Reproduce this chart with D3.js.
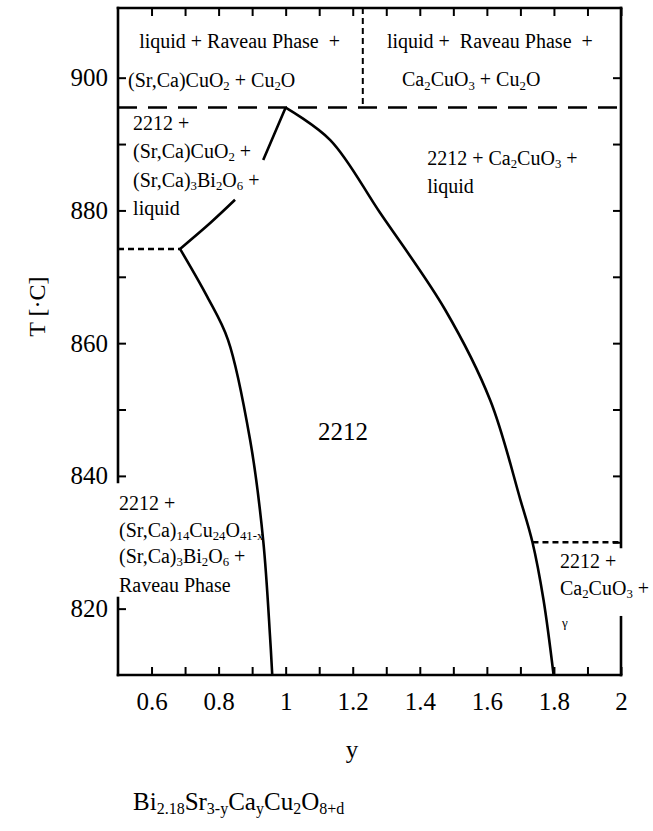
<!DOCTYPE html>
<html>
<head>
<meta charset="utf-8">
<script src="https://cdn.jsdelivr.net/npm/d3@7"></script>
<style>
  body { margin: 0; background: #fff; }
  svg text { font-family: "Liberation Serif", "Times New Roman", serif; white-space: pre; }
</style>
</head>
<body>
<div id="chart"></div>
<script>
// axis ticks
const xTicks = [0.6, 0.7, 0.8, 0.9, 1.0, 1.1, 1.2, 1.3, 1.4, 1.5, 1.6, 1.7, 1.8, 1.9, 2.0];
const xTickLabels = [0.6, 0.8, 1, 1.2, 1.4, 1.6, 1.8, 2];
const tTicks = [820, 830, 840, 850, 860, 870, 880, 890, 900];
const tTickLabels = [820, 840, 860, 880, 900];

// phase boundaries (y = Ca content, T in deg C)
const peritecticT = 895.5;
const splitY = 1.23;
const leftUpperY = [1.0, 0.933, null, 0.849, 0.775, 0.685];
const leftUpperT = [895.5, 887.6, null, 881.6, 878.1, 874.2];
const leftLowerY = [0.685, 0.766, 0.828, 0.894, 0.933, 0.954, 0.96];
const leftLowerT = [874.2, 867.0, 860.5, 845.4, 830.3, 815.3, 810];
const rightY = [1.0, 1.133, 1.282, 1.476, 1.61, 1.70, 1.736, 1.769, 1.799];
const rightT = [895.5, 890.6, 879.6, 865.0, 851.4, 836.4, 830.0, 821.3, 810];
const leftDottedT = 874.2;
const rightDottedT = 830.0;

// phase field labels
const fieldLabels = [
  "liquid + Raveau Phase  +",
  "(Sr,Ca)CuO_2 + Cu_2O",
  "liquid +  Raveau Phase  +",
  "Ca_2CuO_3 + Cu_2O",
  "2212 +", "(Sr,Ca)CuO_2 +", "(Sr,Ca)_3Bi_2O_6 +", "liquid",
  "2212 + Ca_2CuO_3 +", "liquid",
  "2212 +", "(Sr,Ca)_{14}Cu_{24}O_{41-x}", "(Sr,Ca)_3Bi_2O_6 +", "Raveau Phase",
  "2212 +", "Ca_2CuO_3 +"
];

const W = 653, H = 831;

const svg = d3.select("#chart").append("svg")
  .attr("width", W)
  .attr("height", H);

const x = d3.scaleLinear().domain([0.5, 2.0]).range([118, 621]);
const y = d3.scaleLinear().domain([810, 910.5]).range([675, 8]);

// gaps in the side frames where labels run across them
const leftGap = [821.6, 839.1];
const rightGap = [818.7, 829.3];
const outside = gap => d => d < gap[0] || d > gap[1];

const isLabelX = d => xTickLabels.some(v => Math.abs(v - d) < 1e-6);
const isLabelT = d => tTickLabels.includes(d);

// ticks, all pointing inward
const styleAxis = g => {
  g.attr("font-size", 25);
  g.select(".domain").remove();
  g.selectAll("line").attr("stroke", "#000").attr("stroke-width", 2);
  g.selectAll("text").attr("fill", "#000");
};

svg.append("g")
  .attr("transform", `translate(0,${y(810)})`)
  .call(d3.axisBottom(x).tickValues(xTicks).tickSize(-8).tickPadding(17)
    .tickFormat(d => isLabelX(d) ? d3.format("~g")(d) : ""))
  .call(styleAxis);

svg.append("g")
  .attr("transform", `translate(0,${y(910.5)})`)
  .call(d3.axisTop(x).tickValues(xTicks).tickSize(-8).tickFormat(""))
  .call(styleAxis);

svg.append("g")
  .attr("transform", `translate(${x(0.5)},0)`)
  .call(d3.axisLeft(y).tickValues(tTicks.filter(outside(leftGap))).tickSize(-8).tickPadding(10)
    .tickFormat(d => isLabelT(d) ? d : ""))
  .call(styleAxis);

svg.append("g")
  .attr("transform", `translate(${x(2.0)},0)`)
  .call(d3.axisRight(y).tickValues(tTicks.filter(outside(rightGap))).tickSize(-8).tickFormat(""))
  .call(styleAxis);

// frame
const seg = d3.line().x(d => x(d[0])).y(d => y(d[1]));
const frame = [
  [[0.5, 910.5], [2.0, 910.5]],
  [[0.5, 810], [2.0, 810]],
  [[0.5, 910.5], [0.5, leftGap[1]]],
  [[0.5, leftGap[0]], [0.5, 810]],
  [[2.0, 910.5], [2.0, rightGap[1]]],
  [[2.0, rightGap[0]], [2.0, 810]]
];
svg.append("g").selectAll("path")
  .data(frame)
  .join("path")
  .attr("d", seg)
  .attr("fill", "none")
  .attr("stroke", "#000")
  .attr("stroke-width", 2.6)
  .attr("stroke-linecap", "square");

// dashed and dotted boundaries
const dashed = [
  { p: [[0.5, peritecticT], [2.0, peritecticT]], dash: "19,11", w: 2.5 },
  { p: [[splitY, 910.5], [splitY, peritecticT]], dash: "6,4", w: 2 },
  { p: [[0.5, leftDottedT], [leftLowerY[0], leftDottedT]], dash: "6,4", w: 2.5 },
  { p: [[rightY[6], rightDottedT], [2.0, rightDottedT]], dash: "6,4", w: 2.5 }
];
svg.append("g").selectAll("path")
  .data(dashed)
  .join("path")
  .attr("d", d => seg(d.p))
  .attr("fill", "none")
  .attr("stroke", "#000")
  .attr("stroke-width", d => d.w)
  .attr("stroke-dasharray", d => d.dash);

// solid boundaries
const toPts = (ys, ts) => ys.map((v, i) => ({ v, t: ts[i] }));
const curve = d3.line()
  .defined(d => d.v != null)
  .x(d => x(d.v))
  .y(d => y(d.t))
  .curve(d3.curveCatmullRom.alpha(0.5));

svg.append("g").selectAll("path")
  .data([toPts(leftUpperY, leftUpperT), toPts(leftLowerY, leftLowerT), toPts(rightY, rightT)])
  .join("path")
  .attr("d", curve)
  .attr("fill", "none")
  .attr("stroke", "#000")
  .attr("stroke-width", 2.6);

// text with chemical subscripts, written as X_2 or X_{14}
function chem(g, str, px, py, size, anchor) {
  const t = g.append("text")
    .attr("x", px).attr("y", py)
    .attr("font-size", size)
    .attr("text-anchor", anchor || "start")
    .attr("fill", "#000");
  const sub = size * 0.16;
  let shifted = false;
  str.split(/(_\{[^}]*\}|_.)/).forEach(p => {
    if (!p) return;
    if (p[0] === "_") {
      const s = p[1] === "{" ? p.slice(2, -1) : p.slice(1);
      t.append("tspan").attr("font-size", size * 0.64).attr("dy", shifted ? 0 : sub).text(s);
      shifted = true;
    } else {
      t.append("tspan").attr("dy", shifted ? -sub : 0).text(p);
      shifted = false;
    }
  });
  return t;
}

// where each field label sits (data coords of the baseline start)
const labelPos = [
  [0.563, 904.5], [0.530, 898.6],
  [1.302, 904.5], [1.347, 898.7],
  [0.545, 892.1], [0.545, 887.9], [0.545, 883.5], [0.545, 879.3],
  [1.422, 886.8], [1.422, 882.6],
  [0.503, 834.9], [0.503, 830.8], [0.503, 826.9], [0.503, 822.5],
  [1.818, 826.1], [1.818, 822.1]
];
const notes = svg.append("g");
fieldLabels.forEach((s, i) => chem(notes, s, x(labelPos[i][0]), y(labelPos[i][1]), 20));
chem(notes, "\u03b3", x(1.824), y(817.2), 13);
chem(notes, "2212", x(1.171), y(845.4), 25, "middle");

// axis titles
svg.append("text")
  .attr("transform", `translate(45,${y(865.5)}) rotate(-90)`)
  .attr("text-anchor", "middle")
  .attr("font-size", 24)
  .text("T [\u00b7C]");

svg.append("text")
  .attr("x", 352)
  .attr("y", 758)
  .attr("text-anchor", "middle")
  .attr("font-size", 25)
  .text("y");

chem(svg, "Bi_{2.18}Sr_{3-y}Ca_yCu_2O_{8+d}", 133, 810, 25);
</script>
</body>
</html>
